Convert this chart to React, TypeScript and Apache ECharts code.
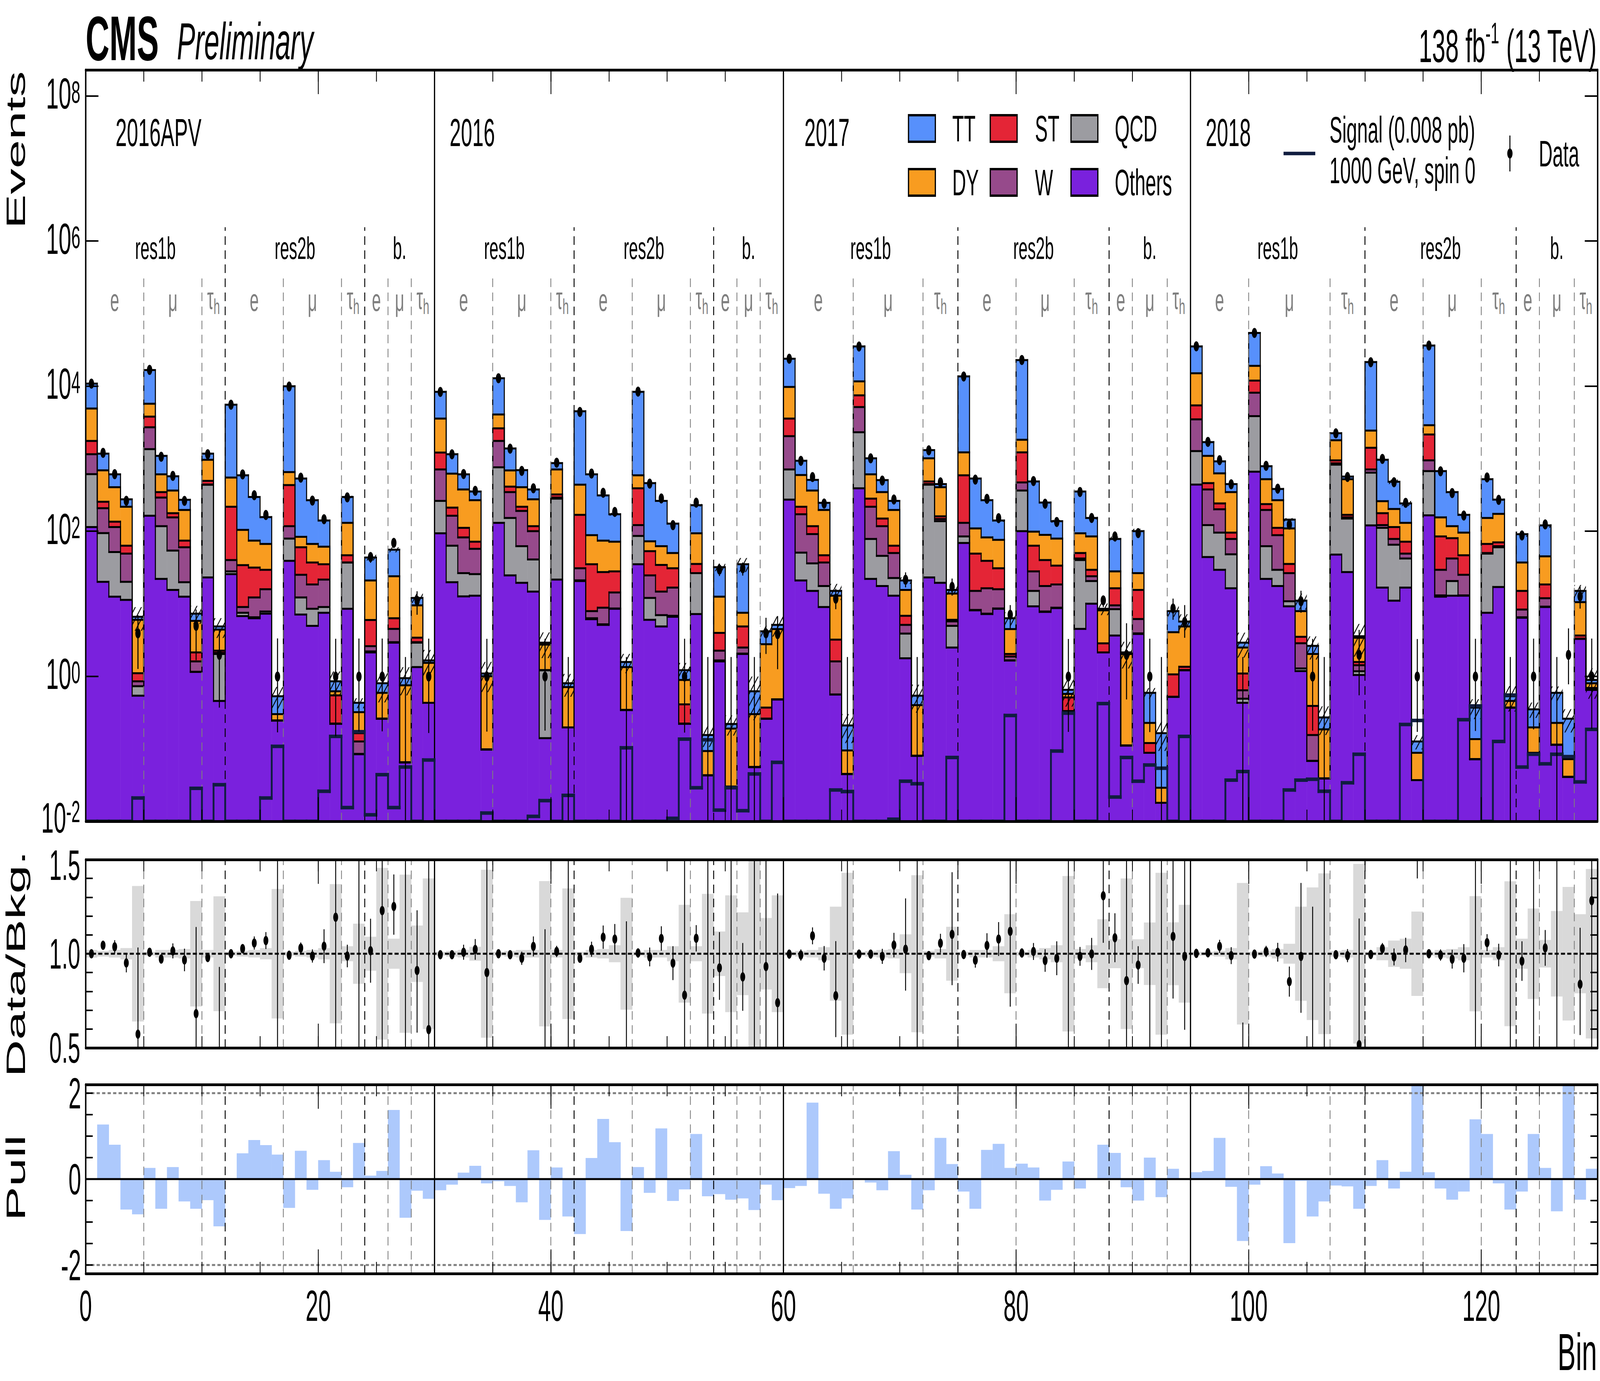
import React, { useEffect, useRef } from "react";
import * as echarts from "echarts";

// ===================== DATA =====================
const NBINS = 130;

// Cumulative stack tops per bin (bottom -> top: Others, QCD, W, ST, DY, TT)
const totalBkg = [
  10800, 1170, 607, 275, 6.6, 16600, 1090, 570, 270, 7.3,
  1170, 4.85, 5530, 589, 296, 156, 0.53, 9930, 531, 267,
  140, 0.85, 296, 0.43, 43.3, 0.8, 55.5, 0.94, 12.0, 1.65,
  8340, 1150, 607, 352, 1.09, 12800, 1380, 694, 375, 2.9,
  868, 0.8, 4500, 607, 311, 171, 1.57, 8340, 460, 261,
  127, 1.21, 228, 0.155, 31.9, 0.22, 35, 0.62, 4.16, 5.1,
  23800, 935, 509, 246, 15, 0.21, 35200, 1010, 505, 261,
  20.9, 0.54, 1310, 446, 15.5, 13600, 531, 267, 140, 6.3,
  22800, 484, 248, 137, 0.65, 352, 152, 8.5, 78, 2.13,
  100, 0.59, 0.164, 7.9, 5.67, 35200, 1690, 916, 446, 2.9,
  54000, 785, 382, 144, 11, 2.62, 0.27, 2240, 565, 3.56,
  21400, 964, 480, 241, 0.126, 36200, 673, 345, 168, 0.37,
  520, 272, 0.53, 90.8, 0.35, 120, 0.59, 0.26, 15, 0.89,
];
const dyTop = [
  4900, 690, 403, 217, 6.0, 5700, 607, 363, 196, 5.8,
  964, 4.4, 548, 104, 74, 66.7, 0.3, 652, 83.6, 66.7,
  61, 0.62, 130, 0.32, 20.9, 0.59, 23.9, 0.75, 9.5, 1.53,
  3560, 620, 375, 267, 1.0, 4060, 687, 403, 275, 2.73,
  708, 0.71, 437, 88, 74, 71.6, 1.34, 589, 72.5, 62,
  50, 0.89, 93.5, 0.093, 12.5, 0.19, 7.5, 0.3, 2.76, 4.47,
  9730, 595, 363, 196, 12.9, 0.095, 11600, 607, 345, 196,
  15.5, 0.4, 1010, 403, 13.8, 1220, 109, 82, 76, 4.47,
  1820, 98.4, 89, 79, 0.57, 93.5, 84.5, 8.1, 27.9, 2.03,
  26.4, 0.227, 0.029, 4.04, 4.85, 15000, 1090, 627, 345, 2.49,
  19000, 520, 267, 109, 7.9, 2.03, 0.185, 1790, 520, 3.39,
  2430, 259, 202, 130, 0.088, 2890, 155, 117, 95.5, 0.136,
  152, 173, 0.457, 37, 0.197, 45, 0.227, 0.072, 10.5, 0.8,
];
const stTop = [
  1750, 254, 135, 63, 1.1, 3790, 345, 177, 74, 2.13,
  494, 2.25, 217, 34, 31.5, 29.3, 0.246, 432, 60, 37,
  35, 0.544, 46.5, 0.164, 5.96, 0.26, 6.3, 0.065, 3.4, 0.43,
  1210, 211, 111, 71.6, 0.098, 2610, 411, 217, 117, 1.21,
  321, 0.197, 168, 35, 27.3, 27.9, 0.343, 390, 53, 34.2,
  30.8, 0.41, 35.3, 0.043, 3.96, 0.03, 4.85, 0.056, 0.37, 0.48,
  3560, 217, 117, 46.5, 3.2, 0.045, 7450, 281, 149, 63,
  6.8, 0.08, 484, 160, 6.0, 589, 49, 39, 30.8, 2.03,
  1220, 63, 40, 33.5, 0.51, 50, 29.3, 2.84, 16.3, 0.111,
  15.5, 0.12, 0.018, 1.06, 1.35, 5420, 460, 241, 95.5, 1.09,
  11900, 236, 111, 35.3, 3.5, 0.39, 0.039, 945, 168, 1.57,
  1410, 177, 114, 71.6, 0.037, 2150, 84.5, 80, 46.5, 0.072,
  66.7, 70, 0.37, 15, 0.088, 18.4, 0.114, 0.041, 3.64, 0.69,
];
const wTop = [
  1150, 207, 114, 49, 0.85, 2700, 290, 155, 60, 1.6,
  440, 2.1, 40, 9.0, 12.2, 15.8, 0.246, 117, 25, 18.4,
  21.5, 0.222, 37, 0.126, 2.6, 0.26, 4.5, 0.065, 2.95, 0.43,
  708, 163, 82, 57, 0.098, 1750, 345, 190, 100, 1.21,
  290, 0.197, 30.8, 7.9, 8.8, 14.3, 0.343, 121, 24.6, 14.7,
  16.7, 0.222, 26.4, 0.043, 2.25, 0.03, 2.49, 0.056, 0.26, 0.48,
  2040, 171, 91, 37, 1.6, 0.045, 5140, 217, 117, 50,
  5.1, 0.08, 445, 147, 5.7, 130, 15, 16.3, 15.8, 1.87,
  470, 27.9, 17.5, 18.4, 0.33, 42, 23.9, 2.13, 9.5, 0.111,
  6.15, 0.088, 0.018, 0.52, 1.21, 3480, 375, 200, 78, 0.64,
  8090, 196, 88, 26.4, 2.85, 0.155, 0.039, 860, 155, 1.42,
  708, 121, 78, 49, 0.037, 945, 29.3, 42, 25, 0.072,
  50, 62, 0.37, 8.3, 0.088, 11.9, 0.114, 0.041, 3.3, 0.65,
];
const qcdTop = [
  610, 94, 51.5, 20, 0.73, 1350, 117, 54, 19.8, 1.15,
  436, 2.03, 27.9, 7.5, 6.5, 7.8, 0.246, 79, 12.2, 8.5,
  9.0, 0.222, 37, 0.085, 2.2, 0.26, 2.95, 0.065, 2.9, 0.43,
  261, 63, 26.4, 25.6, 0.098, 760, 152, 62, 40.7, 1.21,
  281, 0.197, 21, 6.3, 5.2, 8.6, 0.343, 86, 12, 6.95,
  6.8, 0.222, 26.4, 0.043, 1.65, 0.03, 2.05, 0.056, 0.26, 0.48,
  708, 50.5, 36, 17.5, 0.56, 0.045, 2310, 78, 45.6, 22.6,
  3.87, 0.08, 437, 137, 4.95, 84.5, 8.2, 7.3, 8.6, 1.65,
  363, 15, 7.8, 8.8, 0.33, 40, 20.5, 2.13, 8.4, 0.111,
  3.9, 0.088, 0.018, 0.52, 1.21, 1270, 121, 95.5, 48, 0.49,
  3850, 62, 29.3, 10.8, 1.28, 0.068, 0.039, 826, 149, 1.17,
  640, 111, 65, 42, 0.037, 673, 13, 20.5, 13, 0.072,
  49, 60, 0.37, 6.5, 0.088, 9.1, 0.114, 0.041, 3.28, 0.65,
];
const othersTop = [
  114, 20, 12.5, 11.3, 0.54, 163, 22, 15.5, 12.5, 1.15,
  23, 0.457, 25.6, 6.75, 6.3, 7.3, 0.246, 39, 7.1, 4.95,
  7.5, 0.222, 8.5, 0.084, 2.13, 0.26, 2.9, 0.065, 1.34, 0.43,
  93.5, 19.8, 12.6, 12.9, 0.098, 130, 24.6, 19.4, 14.7, 0.14,
  21.5, 0.197, 20.5, 6.1, 5.1, 8.5, 0.343, 35, 6.0, 4.85,
  6.6, 0.222, 7.2, 0.043, 1.6, 0.03, 2.03, 0.056, 0.26, 0.48,
  272, 20.9, 15, 9.0, 0.56, 0.045, 390, 22, 17.5, 12.9,
  1.77, 0.08, 23, 19.4, 2.49, 68.7, 8.1, 7.2, 8.5, 1.65,
  100, 9.2, 7.7, 8.7, 0.33, 4.5, 10, 2.13, 3.64, 0.111,
  3.83, 0.088, 0.018, 0.52, 1.21, 438, 44, 29.3, 16.3, 0.43,
  660, 22, 17.5, 9.2, 1.18, 0.068, 0.039, 47.5, 27.3, 1.04,
  120, 16.7, 11, 16.7, 0.037, 165, 12.5, 12.9, 12.9, 0.072,
  7.5, 17, 0.37, 6.4, 0.088, 9.0, 0.114, 0.041, 3.28, 0.65,
];
const dataYield = [
  10800, 1200, 610, 262, 3.9, 16700, 1060, 578, 261, 4.95,
  1150, 1.97, 5530, 605, 313, 167, 0.99, 9850, 547, 264,
  146, 0.99, 292, 0.99, 44, 0.99, 69, 0, 11, 0.99,
  8300, 1145, 612, 360, 0.99, 12800, 1370, 677, 390, 0.99,
  878, 0, 4400, 622, 338, 184, 0, 8370, 452, 282,
  121, 0.99, 247, 0, 29.5, 0, 30.7, 0, 3.9, 3.8,
  23800, 930, 557, 240, 11.7, 0, 35100, 1010, 498, 273,
  21.4, 0, 1300, 471, 17.1, 13550, 513, 279, 151, 7.05,
  22900, 490, 239, 134, 0.99, 347, 152, 11.1, 84.6, 1.97,
  94, 0.99, 0, 8.6, 5.6, 35300, 1700, 952, 442, 0,
  53900, 795, 385, 123, 10.8, 0.99, 0, 2230, 559, 1.97,
  21300, 990, 472, 246, 0.99, 36200, 668, 335, 164, 0.99,
  550, 270, 0, 87.3, 0.99, 124, 0, 1.97, 12.6, 0.99,
];
const signalYield = [
  0, 0, 0, 0, 0.021, 0, 0, 0, 0, 0.0285,
  0, 0.032, 0, 0, 0, 0.021, 0.108, 0, 0, 0,
  0.026, 0.148, 0.0155, 0.172, 0.0123, 0.044, 0.0155, 0.056, 0, 0.07,
  0, 0, 0, 0, 0.013, 0, 0, 0, 0.0117, 0.0193,
  0, 0.0228, 0, 0, 0, 0, 0.103, 0, 0, 0,
  0.011, 0.136, 0.029, 0.133, 0.0143, 0.029, 0.014, 0.045, 0, 0.065,
  0, 0, 0, 0, 0.027, 0.0257, 0, 0, 0, 0.0107,
  0.0357, 0.033, 0, 0, 0.076, 0, 0, 0, 0, 0.288,
  0, 0, 0, 0.093, 0.31, 0, 0, 0.42, 0.0216, 0.076,
  0.0357, 0.0597, 0.054, 0, 0.148, 0, 0, 0, 0.037, 0.0486,
  0, 0, 0, 0.027, 0.037, 0.038, 0.026, 0, 0.034, 0.084,
  0, 0, 0, 0.216, 0.246, 0, 0, 0, 0.252, 0.39,
  0, 0.126, 0.55, 0.056, 0.084, 0.062, 0.084, 0.078, 0.035, 0.185,
];
const ratioVal = [
  1.0, 1.045, 1.037, 0.951, 0.573, 1.008, 0.972, 1.015, 0.967, 0.682,
  0.98, 0.41, 1.0, 1.027, 1.057, 1.07, 1.87, 0.992, 1.03, 0.988,
  1.04, 1.194, 0.988, 2.3, 1.016, 1.229, 1.251, 0, 0.911, 0.597,
  0.995, 0.995, 1.008, 1.023, 0.9, 1.0, 0.995, 0.976, 1.039, 0.34,
  1.012, 0, 0.976, 1.024, 1.088, 1.078, 0, 1.004, 0.983, 1.081,
  0.95, 0.78, 1.082, 0, 0.925, 0, 0.877, 0, 0.932, 0.74,
  0.998, 0.993, 1.095, 0.976, 0.777, 0, 0.998, 0.998, 0.986, 1.046,
  1.024, 0, 0.99, 1.056, 1.103, 0.996, 0.966, 1.044, 1.078, 1.119,
  1.004, 1.012, 0.964, 0.976, 1.52, 0.986, 0.999, 1.308, 1.085, 0.857,
  0.94, 1.68, 0, 1.092, 0.986, 1.002, 1.005, 1.039, 0.99, 0,
  0.998, 1.012, 1.008, 0.852, 0.986, 0.38, 0, 0.995, 0.99, 0.517,
  0.996, 1.027, 0.983, 1.02, 7.9, 1.0, 0.993, 0.971, 0.976, 2.7,
  1.059, 0.993, 0, 0.961, 2.8, 1.031, 0, 7.5, 0.838, 1.282,
];
const ratioErrUp = [
  0.01, 0.015, 0.035, 0.05, 0.46, 0.01, 0.02, 0.04, 0.06, 0.46,
  0.01, 0.52, 0.01, 0.025, 0.035, 0.045, 4.4, 0.01, 0.03, 0.035,
  0.09, 2.7, 0.06, 5.4, 0.17, 2.9, 0.17, 0, 0.32, 1.4,
  0.01, 0.02, 0.04, 0.055, 2.1, 0.01, 0.02, 0.035, 0.053, 0.79,
  0.03, 0, 0.01, 0.04, 0.062, 0.08, 0, 0.01, 0.05, 0.065,
  0.09, 1.9, 0.07, 0, 0.19, 0, 0.18, 0, 0.6, 0.58,
  0.01, 0.03, 0.045, 0.065, 0.29, 0, 0.01, 0.02, 0.04, 0.065,
  0.27, 0, 0.01, 0.05, 0.33, 0.01, 0.04, 0.065, 0.09, 0.4,
  0.01, 0.045, 0.06, 0.09, 3.5, 0.05, 0.085, 0.2, 0.13, 1.6,
  0.1, 3.9, 0, 0.4, 0.7, 0.01, 0.02, 0.035, 0.045, 0,
  0.01, 0.03, 0.05, 0.08, 0.39, 0.87, 0, 0.01, 0.035, 0.67,
  0.01, 0.03, 0.045, 0.065, 18, 0.01, 0.03, 0.05, 0.075, 6.2,
  0.045, 0.06, 0, 0.105, 6.6, 0.095, 0, 10, 0.3, 2.6,
];
const ratioErrDn = [
  0.01, 0.015, 0.035, 0.05, 0.4, 0.01, 0.02, 0.04, 0.06, 0.45,
  0.01, 0.33, 0.01, 0.025, 0.035, 0.045, 1.55, 0.01, 0.03, 0.035,
  0.09, 0.99, 0.06, 1.9, 0.17, 1.02, 0.15, 0, 0.33, 0.5,
  0.01, 0.02, 0.04, 0.055, 0.75, 0.01, 0.02, 0.035, 0.053, 0.28,
  0.03, 0, 0.01, 0.04, 0.062, 0.08, 0, 0.01, 0.05, 0.065,
  0.09, 0.68, 0.07, 0, 0.17, 0, 0.18, 0, 0.45, 0.5,
  0.01, 0.03, 0.045, 0.065, 0.22, 0, 0.01, 0.02, 0.04, 0.065,
  0.22, 0, 0.01, 0.05, 0.27, 0.01, 0.04, 0.065, 0.09, 0.4,
  0.01, 0.045, 0.06, 0.09, 1.26, 0.05, 0.085, 0.25, 0.13, 0.7,
  0.1, 1.39, 0, 0.33, 0.39, 0.01, 0.02, 0.035, 0.045, 0,
  0.01, 0.03, 0.05, 0.08, 0.3, 0.31, 0, 0.01, 0.035, 0.4,
  0.01, 0.03, 0.045, 0.065, 6.5, 0.01, 0.03, 0.05, 0.075, 2.2,
  0.045, 0.06, 0, 0.105, 2.3, 0.095, 0, 4.6, 0.27, 0.9,
];
const bkgRelUnc = [
  0.02, 0.015, 0.02, 0.03, 0.36, 0.01, 0.02, 0.02, 0.025, 0.28,
  0.02, 0.305, 0.01, 0.015, 0.02, 0.03, 0.344, 0.01, 0.015, 0.02,
  0.03, 0.37, 0.04, 0.16, 0.09, 0.456, 0.08, 0.42, 0.15, 0.4,
  0.01, 0.015, 0.02, 0.037, 0.446, 0.01, 0.015, 0.02, 0.02, 0.386,
  0.02, 0.347, 0.01, 0.02, 0.025, 0.045, 0.297, 0.01, 0.02, 0.02,
  0.04, 0.26, 0.04, 0.318, 0.118, 0.31, 0.22, 0.6, 0.19, 0.31,
  0.01, 0.015, 0.02, 0.035, 0.25, 0.43, 0.01, 0.015, 0.02, 0.025,
  0.103, 0.417, 0.015, 0.025, 0.143, 0.01, 0.02, 0.02, 0.04, 0.21,
  0.01, 0.02, 0.03, 0.045, 0.413, 0.025, 0.045, 0.183, 0.077, 0.4,
  0.077, 0.166, 0.43, 0.167, 0.26, 0.01, 0.01, 0.015, 0.03, 0.376,
  0.01, 0.015, 0.025, 0.053, 0.25, 0.352, 0.427, 0.015, 0.02, 0.477,
  0.01, 0.035, 0.07, 0.08, 0.224, 0.01, 0.02, 0.025, 0.035, 0.306,
  0.02, 0.035, 0.385, 0.08, 0.24, 0.073, 0.227, 0.355, 0.21, 0.45,
];
const pullVal = [
  0, 1.27, 0.8, -0.71, -0.82, 0.26, -0.69, 0.28, -0.52, -0.69,
  -0.49, -1.1, 0, 0.6, 0.91, 0.79, 0.57, -0.67, 0.66, -0.25,
  0.44, 0.17, -0.19, 0.84, 0.08, 0.19, 1.61, -0.9, -0.27, -0.46,
  -0.26, -0.13, 0.15, 0.31, -0.1, -0.05, -0.16, -0.54, 0.67, -0.95,
  0.27, -0.87, -1.28, 0.49, 1.4, 0.86, -1.21, 0.28, -0.32, 1.18,
  -0.51, -0.24, 1.05, -0.4, -0.35, -0.48, -0.45, -0.72, -0.13, -0.49,
  -0.21, -0.16, 1.78, -0.34, -0.69, -0.45, 0, -0.08, -0.26, 0.65,
  0.1, -0.71, -0.26, 0.96, 0.35, -0.29, -0.69, 0.68, 0.82, 0.26,
  0.36, 0.27, -0.5, -0.25, 0.41, -0.22, 0, 0.8, 0.61, -0.19,
  -0.5, 0.5, -0.42, 0.24, 0, 0.16, 0.19, 0.96, -0.18, -1.44,
  -0.13, 0.3, 0.13, -1.49, -0.04, -0.87, -0.52, -0.15, -0.17, -0.69,
  -0.16, 0.44, -0.22, 0.17, 2.6, 0.16, -0.22, -0.48, -0.29, 1.39,
  1.05, -0.1, -0.71, -0.29, 1.05, 0.26, -0.75, 2.6, -0.48, 0.24,
];

// Category structure (bin edges per year: e | mu | tau_h for res1b, res2b, boosted)
const channelBounds = [
  [0, 5, 10, 12, 17, 22, 24, 26, 28, 30],
  [30, 35, 40, 42, 47, 52, 54, 56, 58, 60],
  [60, 66, 72, 75, 80, 85, 88, 90, 93, 95],
  [95, 100, 107, 110, 115, 120, 123, 125, 128, 130],
];
const yearNames = ["2016APV", "2016", "2017", "2018"];
const yearLabelBin = [2.57, 31.3, 61.8, 96.3];
const categoryNames = ["res1b", "res2b", "b."];
const channelNames = ["e", "μ", "τh"];
const mainTickValues = [0.01, 1, 1e2, 1e4, 1e6, 1e8];
const pullTickValues = [-2, -1.5, -1, -0.5, 0, 0.5, 1, 1.5, 2];
const pullLabelValues = [-2, 0, 2];
const legendNames = ["TT", "ST", "QCD", "DY", "W", "Others"];

// ===================== STYLE / LAYOUT =====================
const PAGE_W = 7867;
const PAGE_H = 3536;
const GL = 421;
const GW = 7434;
const GRIDS = [
  { top: 179, height: 1924 },
  { top: 2201, height: 482 },
  { top: 2777, height: 484 },
];
const Y_MIN = 0.01;
const Y_MAX = 2.28e8;
const R_MIN = 0.5;
const R_MAX = 1.5;
const P_MIN = -2.2;
const P_MAX = 2.2;
const ZERO_EVENT_UP = 1.84;
const FONT = '"Liberation Sans", Arial, Helvetica, sans-serif';

const C = {
  TT: "#5790fc",
  DY: "#f89c20",
  ST: "#e42536",
  W: "#964a8b",
  QCD: "#9c9ca1",
  Others: "#7a21dd",
  signal: "#101d3f",
  pull: "#adc9fc",
  band: "#d9d9d9",
  gray: "#7f7f7f",
};

const px = (b: number) => GL + (b / NBINS) * GW;
const clampY = (v: number) => Math.min(Math.max(v, Y_MIN), Y_MAX);
const clampR = (v: number) => Math.min(Math.max(v, R_MIN), R_MAX);
const clampP = (v: number) => Math.min(Math.max(v, P_MIN), P_MAX);

function buildOption(): any {
  const hatch = document.createElement("canvas");
  hatch.width = 30;
  hatch.height = 30;
  const hctx = hatch.getContext("2d");
  if (hctx) {
    hctx.strokeStyle = "#000";
    hctx.lineWidth = 3.5;
    hctx.beginPath();
    hctx.moveTo(-2, 32);
    hctx.lineTo(32, -2);
    hctx.moveTo(-17, 17);
    hctx.lineTo(17, -17);
    hctx.moveTo(13, 47);
    hctx.lineTo(47, 13);
    hctx.stroke();
  }
  const hatchFill: any = { image: hatch, repeat: "repeat", imageWidth: 30, imageHeight: 30 };

  const layers = [othersTop, qcdTop, wTop, stTop, dyTop, totalBkg];
  const layerColors = [C.Others, C.QCD, C.W, C.ST, C.DY, C.TT];
  const bins = Array.from({ length: NBINS }, (_, i) => [i + 0.5, totalBkg[i]]);

  const yearEdges: number[] = [];
  const catEdges: number[] = [];
  const chanEdges: number[] = [];
  channelBounds.forEach((b, y) => {
    if (y > 0) yearEdges.push(b[0]);
    catEdges.push(b[3], b[6]);
    chanEdges.push(b[1], b[2], b[4], b[5], b[7], b[8]);
  });

  type Seg = { x1: number; y1: number; x2: number; y2: number; color: string; width: number; dash?: number[] };
  const mainSegs: Seg[] = [];
  const ratioSegs: Seg[] = [];
  const pullSegs: Seg[] = [];
  chanEdges.forEach((e) => {
    mainSegs.push({ x1: e, y1: Y_MIN, x2: e, y2: 3.2e5, color: C.gray, width: 4, dash: [22, 14] });
    ratioSegs.push({ x1: e, y1: R_MIN, x2: e, y2: R_MAX, color: C.gray, width: 4, dash: [22, 14] });
    pullSegs.push({ x1: e, y1: P_MIN, x2: e, y2: P_MAX, color: C.gray, width: 4, dash: [22, 14] });
  });
  catEdges.forEach((e) => {
    mainSegs.push({ x1: e, y1: Y_MIN, x2: e, y2: 1.55e6, color: "#000", width: 4.5, dash: [22, 14] });
    ratioSegs.push({ x1: e, y1: R_MIN, x2: e, y2: R_MAX, color: "#000", width: 4.5, dash: [22, 14] });
    pullSegs.push({ x1: e, y1: P_MIN, x2: e, y2: P_MAX, color: "#000", width: 4.5, dash: [22, 14] });
  });
  yearEdges.forEach((e) => {
    mainSegs.push({ x1: e, y1: Y_MIN, x2: e, y2: Y_MAX, color: "#000", width: 6 });
    ratioSegs.push({ x1: e, y1: R_MIN, x2: e, y2: R_MAX, color: "#000", width: 6 });
    pullSegs.push({ x1: e, y1: P_MIN, x2: e, y2: P_MAX, color: "#000", width: 6 });
  });
  ratioSegs.push({ x1: 0, y1: 1, x2: NBINS, y2: 1, color: "#000", width: 5, dash: [20, 11] });
  pullSegs.push({ x1: 0, y1: 2, x2: NBINS, y2: 2, color: C.gray, width: 5, dash: [16, 11] });
  pullSegs.push({ x1: 0, y1: -2, x2: NBINS, y2: -2, color: C.gray, width: 5, dash: [16, 11] });
  pullSegs.push({ x1: 0, y1: 0, x2: NBINS, y2: 0, color: "#000", width: 5 });

  const decor = (g: number, yIdx: number, segs: Seg[], z: number) => ({
    type: "custom",
    coordinateSystem: "cartesian2d",
    xAxisIndex: g * 4,
    yAxisIndex: yIdx,
    clip: true,
    silent: true,
    z,
    data: segs.map((s) => [s.x1, s.y1]),
    encode: { x: 0, y: 1 },
    renderItem: (params: any, api: any) => {
      const s = segs[params.dataIndex];
      const p1 = api.coord([s.x1, s.y1]);
      const p2 = api.coord([s.x2, s.y2]);
      return {
        type: "line",
        shape: { x1: p1[0], y1: p1[1], x2: p2[0], y2: p2[1] },
        style: { stroke: s.color, lineWidth: s.width, lineDash: s.dash || null, fill: null },
      };
    },
  });

  const mainBase = {
    type: "custom",
    coordinateSystem: "cartesian2d",
    xAxisIndex: 0,
    yAxisIndex: 0,
    clip: true,
    silent: true,
    data: bins,
    encode: { x: 0, y: 1 },
  };

  const fillSeries = {
    ...mainBase,
    z: 2,
    renderItem: (params: any, api: any) => {
      const i = params.dataIndex;
      const children: any[] = [];
      let prev = Y_MIN;
      for (let k = 0; k < layers.length; k++) {
        const top = clampY(layers[k][i]);
        if (top > prev) {
          const a = api.coord([i, top]);
          const b = api.coord([i + 1, prev]);
          children.push({
            type: "rect",
            shape: { x: a[0] - 0.5, y: a[1], width: b[0] - a[0] + 1, height: b[1] - a[1] },
            style: { fill: layerColors[k] },
          });
          prev = top;
        }
      }
      return { type: "group", children };
    },
  };

  const outlineSeries = {
    ...mainBase,
    z: 3,
    renderItem: (params: any, api: any) => {
      const i = params.dataIndex;
      const children: any[] = [];
      for (let k = 0; k < layers.length; k++) {
        const y0 = clampY(layers[k][i]);
        const p0 = api.coord([i, y0]);
        const p1 = api.coord([i + 1, y0]);
        children.push({
          type: "line",
          shape: { x1: p0[0], y1: p0[1], x2: p1[0], y2: p1[1] },
          style: { stroke: "#000", lineWidth: 5, lineCap: "square" },
        });
        if (i < NBINS - 1) {
          const p2 = api.coord([i + 1, clampY(layers[k][i + 1])]);
          children.push({
            type: "line",
            shape: { x1: p1[0], y1: p1[1], x2: p2[0], y2: p2[1] },
            style: { stroke: "#000", lineWidth: 5, lineCap: "square" },
          });
        }
      }
      return { type: "group", children };
    },
  };

  const hatchSeries = {
    ...mainBase,
    z: 4,
    renderItem: (params: any, api: any) => {
      const i = params.dataIndex;
      const t = totalBkg[i];
      const u = bkgRelUnc[i];
      const a = api.coord([i, clampY(t * (1 + u))]);
      const b = api.coord([i + 1, clampY(t * (1 - u))]);
      return {
        type: "rect",
        shape: { x: a[0], y: a[1], width: b[0] - a[0], height: b[1] - a[1] },
        style: { fill: hatchFill },
      };
    },
  };

  const signalSeries = {
    ...mainBase,
    z: 6,
    renderItem: (params: any, api: any) => {
      const i = params.dataIndex;
      const y0 = clampY(signalYield[i]);
      const p0 = api.coord([i, y0]);
      const p1 = api.coord([i + 1, y0]);
      const children: any[] = [
        { type: "line", shape: { x1: p0[0], y1: p0[1], x2: p1[0], y2: p1[1] }, style: { stroke: C.signal, lineWidth: 9, lineCap: "square" } },
      ];
      if (i < NBINS - 1) {
        const p2 = api.coord([i + 1, clampY(signalYield[i + 1])]);
        children.push({ type: "line", shape: { x1: p1[0], y1: p1[1], x2: p2[0], y2: p2[1] }, style: { stroke: C.signal, lineWidth: 9, lineCap: "square" } });
      }
      return { type: "group", children };
    },
  };

  const dataSeries = {
    ...mainBase,
    z: 7,
    renderItem: (params: any, api: any) => {
      const i = params.dataIndex;
      const d = dataYield[i];
      const t = totalBkg[i];
      const xc = i + 0.5;
      const children: any[] = [];
      if (d > 0) {
        const hi = api.coord([xc, clampY(d + ratioErrUp[i] * t)]);
        const lo = api.coord([xc, clampY(d - ratioErrDn[i] * t)]);
        children.push({ type: "line", shape: { x1: hi[0], y1: hi[1], x2: lo[0], y2: lo[1] }, style: { stroke: "#000", lineWidth: 5 } });
        const c = api.coord([xc, d]);
        children.push({ type: "circle", shape: { cx: c[0], cy: c[1], r: 13 }, style: { fill: "#000" } });
      } else {
        const hi = api.coord([xc, ZERO_EVENT_UP]);
        const lo = api.coord([xc, Y_MIN]);
        children.push({ type: "line", shape: { x1: hi[0], y1: hi[1], x2: lo[0], y2: lo[1] }, style: { stroke: "#000", lineWidth: 5 } });
      }
      return { type: "group", children };
    },
  };

  const ratioBase = {
    type: "custom",
    coordinateSystem: "cartesian2d",
    xAxisIndex: 4,
    yAxisIndex: 2,
    clip: true,
    silent: true,
    data: Array.from({ length: NBINS }, (_, i) => [i + 0.5, ratioVal[i]]),
    encode: { x: 0, y: 1 },
  };
  const bandSeries = {
    ...ratioBase,
    z: 2,
    renderItem: (params: any, api: any) => {
      const i = params.dataIndex;
      const u = bkgRelUnc[i];
      const a = api.coord([i, clampR(1 + u)]);
      const b = api.coord([i + 1, clampR(1 - u)]);
      return { type: "rect", shape: { x: a[0] - 0.5, y: a[1], width: b[0] - a[0] + 1, height: b[1] - a[1] }, style: { fill: C.band } };
    },
  };
  const ratioPointSeries = {
    ...ratioBase,
    z: 4,
    renderItem: (params: any, api: any) => {
      const i = params.dataIndex;
      const d = dataYield[i];
      const t = totalBkg[i];
      const xc = i + 0.5;
      const children: any[] = [];
      let r = 0;
      let up = 0;
      let dn = 0;
      if (d > 0) {
        r = ratioVal[i];
        up = r + ratioErrUp[i];
        dn = r - ratioErrDn[i];
      } else {
        up = ZERO_EVENT_UP / t;
        dn = 0;
      }
      const cu = clampR(up);
      const cd = clampR(dn);
      if (cu > cd) {
        const p1 = api.coord([xc, cu]);
        const p2 = api.coord([xc, cd]);
        children.push({ type: "line", shape: { x1: p1[0], y1: p1[1], x2: p2[0], y2: p2[1] }, style: { stroke: "#000", lineWidth: 4.5 } });
      }
      if (d > 0 && r >= R_MIN && r <= R_MAX) {
        const c = api.coord([xc, r]);
        children.push({ type: "circle", shape: { cx: c[0], cy: c[1], r: 12 }, style: { fill: "#000" } });
      }
      return { type: "group", children };
    },
  };

  const pullSeries = {
    type: "custom",
    coordinateSystem: "cartesian2d",
    xAxisIndex: 8,
    yAxisIndex: 4,
    clip: true,
    silent: true,
    z: 2,
    data: Array.from({ length: NBINS }, (_, i) => [i + 0.5, pullVal[i]]),
    encode: { x: 0, y: 1 },
    renderItem: (params: any, api: any) => {
      const i = params.dataIndex;
      const v = clampP(pullVal[i]);
      const a = api.coord([i, Math.max(v, 0)]);
      const b = api.coord([i + 1, Math.min(v, 0)]);
      return { type: "rect", shape: { x: a[0] - 0.5, y: a[1], width: b[0] - a[0] + 1, height: b[1] - a[1] }, style: { fill: C.pull } };
    },
  };

  const xAxes: any[] = [];
  [0, 1, 2].forEach((g) => {
    ["bottom", "top"].forEach((pos) => {
      ["minor", "major"].forEach((kind) => {
        const major = kind === "major";
        xAxes.push({
          type: "value",
          gridIndex: g,
          position: pos,
          min: 0,
          max: NBINS,
          interval: major ? 20 : 5,
          z: 20,
          axisLine: { show: major, onZero: false, lineStyle: { color: "#000", width: 7 } },
          axisTick: { show: true, inside: true, length: major ? 62 : 30, lineStyle: { color: "#000", width: 4 } },
          axisLabel: {
            show: g === 2 && pos === "bottom" && major,
            margin: 26,
            fontSize: 112,
            fontFamily: FONT,
            color: "#000",
            formatter: (v: number) => (v % 20 === 0 && v <= 120 ? String(v) : ""),
          },
          splitLine: { show: false },
          minorTick: { show: false },
        });
      });
    });
  });

  const tokenBase = { fontFamily: FONT, color: "#000" };
  const supRich = {
    b: { ...tokenBase, fontSize: 112, lineHeight: 100, verticalAlign: "bottom" },
    s: { ...tokenBase, fontSize: 80, lineHeight: 50, verticalAlign: "top" },
    // lowest label: lifted slightly so it clears the ratio panel's "1.5"
    bl: { ...tokenBase, fontSize: 110, lineHeight: 100, verticalAlign: "top" },
    sl: { ...tokenBase, fontSize: 78, lineHeight: 50, verticalAlign: "top" },
    pad: { ...tokenBase, fontSize: 2, lineHeight: 128, verticalAlign: "top" },
  };
  const yCommon = (g: number, pos: string) => ({
    gridIndex: g,
    position: pos,
    z: 20,
    axisLine: { show: true, onZero: false, lineStyle: { color: "#000", width: 7 } },
    splitLine: { show: false },
    minorTick: { show: false },
  });
  const yAxes: any[] = [];
  ["left", "right"].forEach((pos) => {
    yAxes.push({
      ...yCommon(0, pos),
      type: "log",
      logBase: 10,
      min: Y_MIN,
      max: Y_MAX,
      axisTick: { show: true, inside: true, length: 63, lineStyle: { color: "#000", width: 4 }, customValues: mainTickValues },
      axisLabel: {
        show: pos === "left",
        margin: 26,
        customValues: mainTickValues,
        formatter: (v: number) => {
          const e = Math.round(Math.log10(v));
          return e === -2 ? `{bl|10}{sl|${e}}{pad| }` : `{b|10}{s|${e}}`;
        },
        rich: supRich,
      },
    });
  });
  ["left", "right"].forEach((pos) => {
    yAxes.push({
      ...yCommon(1, pos),
      type: "value",
      min: R_MIN,
      max: R_MAX,
      interval: 0.1,
      axisTick: { show: true, inside: true, length: 35, lineStyle: { color: "#000", width: 4 } },
      axisLabel: {
        show: pos === "left",
        margin: 26,
        fontSize: 110,
        lineHeight: 96,
        fontFamily: FONT,
        color: "#000",
        formatter: (v: number) => {
          if (Math.abs(v * 2 - Math.round(v * 2)) > 1e-6) return "";
          return Math.abs(v - R_MAX) < 1e-6 ? `{t|${v.toFixed(1)}}` : v.toFixed(1);
        },
        rich: { t: { ...tokenBase, fontSize: 110, lineHeight: 96, padding: [28, 0, 0, 0] } },
      },
    });
  });
  ["left", "right"].forEach((pos) => {
    yAxes.push({
      ...yCommon(2, pos),
      type: "value",
      min: P_MIN,
      max: P_MAX,
      axisTick: { show: true, inside: true, length: 35, lineStyle: { color: "#000", width: 4 }, customValues: pullTickValues },
      axisLabel: {
        show: pos === "left",
        margin: 22,
        fontSize: 112,
        lineHeight: 96,
        fontFamily: FONT,
        color: "#000",
        customValues: pullLabelValues,
        formatter: (v: number) => String(v),
      },
    });
  });

  const T = (x: number, y: number, text: string, size: number, o: any = {}) => ({
    type: "text",
    x,
    y,
    rotation: o.rot || 0,
    silent: true,
    z: 100,
    style: {
      text,
      fill: o.color || "#000",
      font: `${o.font || ""} ${size}px ${FONT}`.trim(),
      textAlign: o.align || "left",
      align: o.align || "left",
      textVerticalAlign: "middle",
      verticalAlign: "middle",
      rich: o.rich,
    },
  });
  const graphics: any[] = [];
  graphics.push(T(421, 98, "CMS", 162, { font: "bold" }));
  graphics.push(T(870, 106, "Preliminary", 134, { font: "italic" }));
  graphics.push(
    T(7850, 112, "{n|138 fb}{s|-1}{n| (13 TeV)}", 118, {
      align: "right",
      rich: {
        n: { fontSize: 118, fontFamily: FONT, fill: "#000", color: "#000", lineHeight: 130, verticalAlign: "bottom" },
        s: { fontSize: 76, fontFamily: FONT, fill: "#000", color: "#000", lineHeight: 70, verticalAlign: "top" },
      },
    })
  );
  graphics.push(T(78, 182, "Events", 132, { align: "right", rot: Math.PI / 2 }));
  graphics.push(T(78, 2468, "Data/Bkg.", 132, { align: "center", rot: Math.PI / 2 }));
  graphics.push(T(78, 3016, "Pull", 132, { align: "center", rot: Math.PI / 2 }));
  graphics.push(T(7852, 3462, "Bin", 134, { align: "right" }));

  yearNames.forEach((n, k) => graphics.push(T(px(yearLabelBin[k]), 340, n, 100)));
  const tauRich = {
    t: { fontSize: 80, fontFamily: FONT, fill: C.gray, color: C.gray, lineHeight: 90, verticalAlign: "top" },
    h: { fontSize: 56, fontFamily: FONT, fill: C.gray, color: C.gray, lineHeight: 60, verticalAlign: "bottom" },
  };
  channelBounds.forEach((b) => {
    for (let c = 0; c < 3; c++) {
      const mid = (b[c * 3] + b[c * 3 + 3]) / 2;
      graphics.push(T(px(mid), 635, categoryNames[c], 80, { align: "center" }));
      for (let s = 0; s < 3; s++) {
        const lo = b[c * 3 + s];
        const hi = b[c * 3 + s + 1];
        const cx = px((lo + hi) / 2);
        if (s === 2) {
          graphics.push(T(cx, 768, "{t|τ}{h|h}", 80, { align: "center", color: C.gray, rich: tauRich }));
        } else {
          graphics.push(T(cx, 768, channelNames[s], 80, { align: "center", color: C.gray }));
        }
      }
    }
  });

  const legendColors: any = { TT: C.TT, ST: C.ST, QCD: C.QCD, DY: C.DY, W: C.W, Others: C.Others };
  const boxX = [4467, 4869, 5266];
  const textX = [4682, 5089, 5481];
  const rowY = [329, 467];
  legendNames.forEach((n, k) => {
    const col = k % 3;
    const row = Math.floor(k / 3);
    graphics.push({
      type: "rect",
      silent: true,
      z: 100,
      shape: { x: boxX[col], y: rowY[row] - 34, width: 132, height: 68 },
      style: { fill: legendColors[n], stroke: "#000", lineWidth: 6 },
    });
    graphics.push(T(textX[col], rowY[row], n, 94));
  });
  graphics.push({
    type: "line",
    silent: true,
    z: 100,
    shape: { x1: 6311, y1: 393, x2: 6467, y2: 393 },
    style: { stroke: C.signal, lineWidth: 9 },
  });
  graphics.push(T(6537, 332, "Signal (0.008 pb)", 94));
  graphics.push(T(6537, 436, "1000 GeV, spin 0", 94));
  graphics.push({ type: "line", silent: true, z: 100, shape: { x1: 7424, y1: 347, x2: 7424, y2: 439 }, style: { stroke: "#000", lineWidth: 5 } });
  graphics.push({ type: "circle", silent: true, z: 101, shape: { cx: 7424, cy: 393, r: 13 }, style: { fill: "#000" } });
  graphics.push(T(7566, 393, "Data", 94));

  return {
    animation: false,
    backgroundColor: "#fff",
    textStyle: { fontFamily: FONT },
    grid: GRIDS.map((g) => ({
      left: GL,
      top: g.top,
      width: GW,
      height: g.height,
      show: false,
      containLabel: false,
      outerBoundsMode: "none",
    })),
    xAxis: xAxes,
    yAxis: yAxes,
    graphic: { elements: graphics },
    series: [
      fillSeries,
      outlineSeries,
      hatchSeries,
      decor(0, 0, mainSegs, 5),
      signalSeries,
      dataSeries,
      bandSeries,
      decor(1, 2, ratioSegs, 3),
      ratioPointSeries,
      pullSeries,
      decor(2, 4, pullSegs, 3),
    ],
  };
}

export default function App() {
  const outerRef = useRef<HTMLDivElement | null>(null);
  const ref = useRef<HTMLDivElement | null>(null);
  useEffect(() => {
    if (!ref.current || !outerRef.current) return;
    // The browser window may be narrower than the requested page; fit the page into it.
    const vw = window.innerWidth || PAGE_W;
    const vh = window.innerHeight || PAGE_H;
    const sx = vw / PAGE_W;
    const sy = vh / PAGE_H;
    if (Math.abs(sx - 1) > 0.005 || Math.abs(sy - 1) > 0.005) {
      ref.current.style.transformOrigin = "0 0";
      ref.current.style.transform = `scale(${sx}, ${sy})`;
    }
    outerRef.current.style.width = `${vw}px`;
    outerRef.current.style.height = `${vh}px`;
    const chart = echarts.init(ref.current, null, { renderer: "svg" });
    chart.setOption(buildOption());
    return () => {
      chart.dispose();
    };
  }, []);
  return (
    <div ref={outerRef} style={{ position: "absolute", left: 0, top: 0, overflow: "hidden", background: "#fff" }}>
      <div ref={ref} style={{ position: "absolute", left: 0, top: 0, width: PAGE_W, height: PAGE_H, background: "#fff" }} />
    </div>
  );
}
